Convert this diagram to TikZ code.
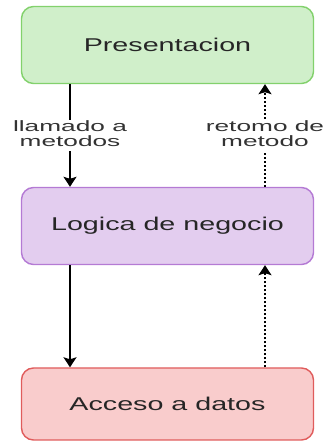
\documentclass[tikz,border=0pt]{standalone}
\usepackage{fontspec}
\setmainfont{Liberation Sans}
\usetikzlibrary{arrows.meta}
\definecolor{presfill}{HTML}{D0EFCA}
\definecolor{presline}{HTML}{82D16C}
\definecolor{logfill}{HTML}{E3CDEF}
\definecolor{logline}{HTML}{B47AD4}
\definecolor{accfill}{HTML}{F9CCCC}
\definecolor{accline}{HTML}{E05C5C}
\tikzset{
  layer/.style={draw, rounded corners=12pt, line width=1.4pt, minimum width=292pt,
    minimum height=77pt, inner sep=0pt, text=black!85,
    font=\fontsize{18.5}{20}\selectfont},
  call/.style={line width=1.4pt, -{Stealth[length=10pt,width=13pt,inset=2pt]}},
  back/.style={call, dash pattern=on 2pt off 2pt},
  lbl/.style={fill=white, inner sep=1pt, text=black!80,
    font=\fontsize{15}{13.5}\selectfont}
}
\newcommand{\boxtxt}[1]{\scalebox{1.55}[1]{#1}}
\newcommand{\lbltxt}[2]{\scalebox{1.75}[1]{\begin{tabular}{@{}c@{}}#1\\#2\end{tabular}}}
\begin{document}
\begin{tikzpicture}[x=1pt,y=1pt]
 \useasboundingbox (0,0) rectangle (326,442);
 \node[layer, fill=presfill, draw=presline] (pres) at (167.5,397) {\boxtxt{Presentacion}};
 \node[layer, fill=logfill, draw=logline] (logic) at (167.5,216) {\boxtxt{Logica de negocio}};
 \node[layer, fill=accfill, draw=accline, minimum height=72pt] (acc) at (167.5,38) {\boxtxt{Acceso a datos}};
 % llamadas hacia abajo
 \draw[call] ([xshift=-97.5pt]pres.south) -- node[lbl] (callA) {\lbltxt{llamado a}{metodos}} ([xshift=-97.5pt]logic.north);
 \draw[call] ([xshift=-97.5pt]logic.south) -- ([xshift=-97.5pt]acc.north);
 % retornos
 \draw[back] ([xshift=97.5pt]logic.north) -- node[lbl] (backA) {\lbltxt{retomo de}{metodo}} ([xshift=97.5pt]pres.south);
 \draw[back] ([xshift=97.5pt]acc.north) -- ([xshift=97.5pt]logic.south);
\end{tikzpicture}
\end{document}
